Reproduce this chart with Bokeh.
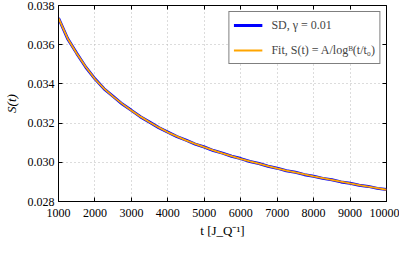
from bokeh.plotting import figure
from bokeh.models import Range1d, LinearAxis, FixedTicker, Legend, LegendItem, PrintfTickFormatter, CustomJSTickFormatter, Title
from bokeh.embed import file_html
from bokeh.resources import INLINE

t_vals = [1000, 1250, 1500, 1750, 2000, 2250, 2500, 2750, 3000, 3250,
          3500, 3750, 4000, 4250, 4500, 4750, 5000, 5250, 5500, 5750,
          6000, 6250, 6500, 6750, 7000, 7250, 7500, 7750, 8000, 8250,
          8500, 8750, 9000, 9250, 9500, 9750, 10000]
s_fit = [0.03735, 0.03632, 0.03555, 0.03486, 0.03425, 0.03376, 0.03335, 0.03298, 0.03264, 0.03233,
         0.03204, 0.03178, 0.03153, 0.03132, 0.03112, 0.03094, 0.03077, 0.03061, 0.03046, 0.03032,
         0.03018, 0.03005, 0.02993, 0.02981, 0.02969, 0.02958, 0.02948, 0.02938, 0.02928, 0.02919,
         0.02910, 0.02901, 0.02892, 0.02884, 0.02876, 0.02868, 0.02860]
s_sd = [0.03736, 0.03631, 0.03556, 0.03485, 0.03426, 0.03375, 0.03336, 0.03297, 0.03265, 0.03232,
        0.03205, 0.03177, 0.03154, 0.03131, 0.03113, 0.03093, 0.03078, 0.03060, 0.03047, 0.03031,
        0.03019, 0.03004, 0.02994, 0.02980, 0.02970, 0.02957, 0.02949, 0.02937, 0.02929, 0.02918,
        0.02911, 0.02900, 0.02893, 0.02883, 0.02877, 0.02867, 0.02861]
x_ticks = [1000, 2000, 3000, 4000, 5000, 6000, 7000, 8000, 9000, 10000]
y_ticks = [0.028, 0.030, 0.032, 0.034, 0.036, 0.038]
x_title = "t [J_Q⁻¹]"
y_title = "S(t)"

FONT = "'Liberation Serif'"

p = figure(width=399, height=243, output_backend="svg", toolbar_location=None,
           x_range=Range1d(1000, 10000), y_range=Range1d(0.028, 0.038),
           min_border_left=49, min_border_right=13, min_border_top=5, min_border_bottom=42)

p.outline_line_color = "black"
p.outline_line_width = 1

r_sd = p.line(t_vals, s_sd, line_color="#0000ff", line_width=3)
r_fit = p.line(t_vals, s_fit, line_color="#ffa500", line_width=1.8)

for ax in [p.xaxis[0], p.yaxis[0]]:
    ax.major_tick_in = 4
    ax.major_tick_out = 0
    ax.minor_tick_in = 0
    ax.minor_tick_out = 0
    ax.axis_line_color = "black"
    ax.major_label_text_font = FONT
    ax.major_label_text_font_size = "12px"
    ax.major_label_text_color = "black"
    ax.axis_label_text_font = FONT
    ax.axis_label_text_font_size = "13px"
    ax.axis_label_text_color = "black"

p.xaxis.ticker = FixedTicker(ticks=x_ticks)
p.yaxis.ticker = FixedTicker(ticks=y_ticks)
p.yaxis.formatter = PrintfTickFormatter(format="%.3f")
p.yaxis.axis_label = y_title
p.yaxis.axis_label_text_font_style = "italic"
p.xaxis.major_label_standoff = 7
p.yaxis.major_label_standoff = 4
p.yaxis.axis_label_standoff = 6

xlab = Title(text=x_title, align="center", text_font=FONT, text_font_size="13px",
             text_font_style="normal", text_color="black", standoff=2, offset=0)
p.add_layout(xlab, "below")

blank = CustomJSTickFormatter(code="return ''")
right_ax = LinearAxis(ticker=FixedTicker(ticks=y_ticks), formatter=blank,
                      major_tick_in=4, major_tick_out=0, minor_tick_in=0, minor_tick_out=0,
                      axis_line_color=None, major_label_standoff=0, major_label_text_font_size="1px")
top_ax = LinearAxis(ticker=FixedTicker(ticks=x_ticks), formatter=blank,
                    major_tick_in=4, major_tick_out=0, minor_tick_in=0, minor_tick_out=0,
                    axis_line_color=None, major_label_standoff=0, major_label_text_font_size="1px")
p.add_layout(right_ax, "right")
p.add_layout(top_ax, "above")

p.xgrid.ticker = FixedTicker(ticks=x_ticks)
p.ygrid.ticker = FixedTicker(ticks=y_ticks)
p.grid.grid_line_color = "#b8b8b8"
p.grid.grid_line_dash = "1 3"
p.grid.grid_line_width = 1

legend = Legend(items=[LegendItem(label="SD, γ = 0.01", renderers=[r_sd]),
                       LegendItem(label="Fit, S(t) = A/logᴮ(t/t₀)", renderers=[r_fit])],
                location="top_right")
legend.border_line_color = "black"
legend.border_line_width = 1
legend.background_fill_color = "white"
legend.background_fill_alpha = 1
legend.label_text_font = FONT
legend.label_text_font_size = "12px"
legend.glyph_width = 29
legend.glyph_height = 18
legend.label_height = 18
legend.margin = 6
legend.padding = 4
legend.spacing = 7
legend.label_standoff = 9
p.add_layout(legend)

open("out.html", "w").write(file_html(p, INLINE))
